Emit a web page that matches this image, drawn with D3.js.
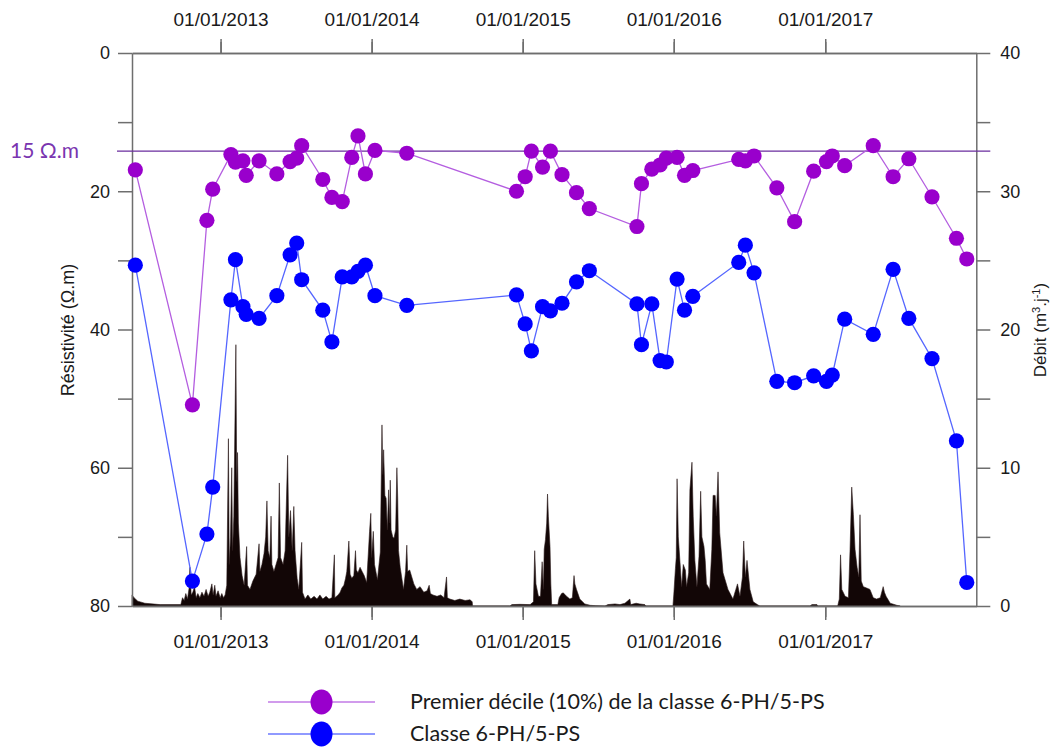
<!DOCTYPE html>
<html><head><meta charset="utf-8">
<script src="https://cdn.jsdelivr.net/npm/d3@7"></script>
<style>
body{margin:0;background:#fff;}
svg{display:block;}
.ax text{font-family:"Liberation Sans",Arial,sans-serif;fill:#1a1a1a;}
.ax path,.ax line{stroke:#6e6e6e;stroke-width:1.5;}
</style></head>
<body>
<svg id="chart" width="1053" height="747"></svg>
<script>
// ---- Data ----
const sampleDates = ["2012-06-09","2012-10-25","2012-11-29","2012-12-13","2013-01-26","2013-02-06","2013-02-24","2013-03-04","2013-04-04","2013-05-17","2013-06-18","2013-07-04","2013-07-16","2013-09-05","2013-09-27","2013-10-22","2013-11-14","2013-11-29","2013-12-17","2014-01-09","2014-03-27","2014-12-17","2015-01-07","2015-01-22","2015-02-18","2015-03-09","2015-04-06","2015-05-11","2015-06-11","2015-10-04","2015-10-15","2015-11-09","2015-11-29","2015-12-14","2016-01-09","2016-01-27","2016-02-16","2016-06-06","2016-06-22","2016-07-13","2016-09-06","2016-10-19","2016-12-04","2017-01-04","2017-01-18","2017-02-17","2017-04-27","2017-06-14","2017-07-22","2017-09-16","2017-11-14","2017-12-09"];
const premierDecile = [16.9,50.9,24.2,19.7,14.7,15.8,15.6,17.7,15.6,17.5,15.7,15.2,13.4,18.3,20.9,21.5,15.1,12.0,17.5,14.1,14.5,20.0,17.9,14.2,16.5,14.2,17.6,20.2,22.5,25.1,18.9,16.8,16.2,15.2,15.1,17.7,17.0,15.4,15.6,14.9,19.5,24.4,17.1,15.7,14.9,16.3,13.4,17.9,15.3,20.8,26.8,29.8];
const classe = [30.7,76.4,69.6,62.8,35.7,29.9,36.7,37.8,38.4,35.1,29.2,27.5,32.8,37.2,41.8,32.4,32.4,31.6,30.7,35.1,36.5,35.0,39.2,43.1,36.7,37.3,36.2,33.1,31.5,36.3,42.2,36.3,44.5,44.7,32.7,37.2,35.2,30.3,27.8,31.8,47.5,47.7,46.7,47.5,46.6,38.5,40.7,31.3,38.4,44.2,56.1,76.6];

// Discharge (débit), days counted from 01/06/2012
const debitStart = "2012-06-01";
const debitDays = [0,5,14,31,68,118,122,126,130,134,138,140,143,147,151,155,159,164,169,174,179,184,188,193,196,200,203,208,213,217,221,
225,229,233,235,238,241,243,246,251,253,255,257,261,266,271,277,279,285,292,300,307,309,314,319,323,326,329,333,336,338,343,348,353,356,359,365,370,376,379,383,387,391,394,399,403,410,412,418,425,432,440,447,454,461,469,476,483,489,490,498,503,507,512,516,519,524,527,531,536,540,542,546,551,556,561,567,570,574,577,579,583,586,593,600,604,606,608,611,614,617,620,622,624,626,630,633,637,640,642,644,648,656,661,664,666,671,676,681,688,696,705,713,718,721,727,737,746,754,760,762,768,780,792,805,817,822,823,
913,918,937,962,970,973,976,982,987,991,994,996,999,1002,1004,1006,1010,1012,1014,1029,1032,1038,1042,1050,1058,1064,1068,1070,1074,1082,1094,1107,1121,1143,1150,1167,1179,1191,1203,1205,1218,1227,1239,1242,
1307,1309,1313,1315,1317,1320,1322,1328,1332,1337,1340,1345,1348,1353,1356,1360,1365,1370,1374,1377,1382,1385,1388,1396,1401,1404,1409,1412,1416,1420,1428,1440,1452,1459,1463,1469,1475,1478,1482,1486,1493,1501,1511,1517,1638,1643,1655,1657,
1705,1709,1712,1715,1723,1731,1735,1739,1743,1747,1752,1756,1759,1762,1767,1775,1783,1791,1799,1808,1815,1818,1822,1832,1848,1856];
const debitValues = [0.8,0.6,0.35,0.2,0.1,0.1,0.6,0.4,0.9,0.5,1.3,2.8,0.8,1.0,1.4,0.6,0.9,0.6,1.0,0.7,1.2,0.7,1.0,1.6,0.8,1.5,0.7,1.1,0.6,0.9,0.6,
0.8,1.5,12.1,3.0,5.0,10.0,4.0,6.5,18.9,9.0,11.1,6.0,3.5,2.2,1.5,4.3,1.5,1.2,1.8,2.3,4.5,2.5,3.0,3.8,5.0,7.6,4.0,3.5,6.5,3.0,2.5,3.0,3.5,8.9,3.5,3.0,4.0,10.9,5.0,6.9,4.0,7.2,4.0,2.0,1.2,4.6,1.0,0.5,0.8,0.5,0.7,0.5,0.8,0.5,0.7,0.5,0.6,3.7,0.6,0.8,1.0,1.3,1.5,2.0,2.5,4.7,2.3,2.0,2.2,4.0,2.6,2.4,2.8,2.5,2.2,1.7,3.3,5.4,6.7,3.5,5.4,3.0,1.9,3.9,13.1,9.5,11.3,8.0,7.8,5.5,8.4,6.0,9.1,5.5,5.0,4.9,5.5,10.0,7.8,4.0,2.8,1.2,2.5,4.4,2.5,2.6,2.1,1.6,1.2,1.4,1.0,1.1,1.5,0.9,0.8,0.7,0.8,0.6,2.1,0.6,0.5,0.4,0.5,0.4,0.45,0.3,0,
0,0.1,0.12,0.1,0.3,4.0,1.6,0.7,0.7,3.2,1.2,4.1,4.8,6.0,8.1,6.5,4.3,1.6,0.1,0.1,0.6,0.9,0.95,0.7,0.5,0.6,2.2,1.6,1.2,0.5,0.15,0.05,0.02,0,0.1,0.15,0.1,0.2,0.5,0.1,0.2,0.15,0.1,0,
0,0.8,2.7,3.5,9.2,5.0,4.1,1.4,3.0,2.6,1.4,2.4,8.4,10.4,6.5,3.3,1.4,3.6,8.3,5.0,4.3,3.3,1.6,1.2,4.1,8.0,8.0,6.5,9.7,5.3,2.4,1.2,0.5,1.2,1.6,0.7,2.1,4.7,2.1,3.3,1.2,0.3,0.1,0,0,0.1,0.1,0,
0,0.5,3.7,1.2,0.7,0.6,4.1,8.6,6.6,4.1,2.8,2.1,6.6,1.8,1.4,1.3,1.2,0.6,0.5,0.6,1.4,1.0,0.7,0.2,0.05,0];

const resTicks = [0,10,20,30,40,50,60,70,80];
const debTicks = [0,5,10,15,20,25,30,35,40];
const seuil = 14.2;          // reference line labelled "15 Ω.m" (drawn position)
const seuilLabel = "15 Ω.m";
const legendLabels = ["Premier décile (10%) de la classe 6-PH/5-PS","Classe 6-PH/5-PS"];

// ---- Chart ----
const parse = d3.timeParse("%Y-%m-%d");
const svg = d3.select("#chart");
const x = d3.scaleTime().domain([parse("2012-06-01"), parse("2018-01-01")]).range([132, 976.3]);
const yRes = d3.scaleLinear().domain([0,80]).range([53,606]);
const yDeb = d3.scaleLinear().domain([0,40]).range([606,53]);

const start = parse(debitStart);
const debit = debitDays.map((d,i)=>({date:d3.timeDay.offset(start,d), v:debitValues[i]}));

// discharge area
svg.append("path").datum(debit)
  .attr("fill","#120606").attr("stroke","#2a1a1a").attr("stroke-width",0.6)
  .attr("d", d3.area().x(d=>x(d.date)).y0(yDeb(0)).y1(d=>yDeb(d.v)));

// axes
const janTicks = d3.timeMonth.every(12).range(parse("2013-01-01"), parse("2018-01-01"));
const julTicks = d3.timeMonth.every(12).range(parse("2012-07-01"), parse("2018-01-01"));
const fmt = d3.timeFormat("%d/%m/%Y");

function styleAx(g, fs){ g.attr("class","ax"); g.selectAll("text").style("font-size",fs+"px"); }

svg.append("g").attr("transform","translate(0,53)")
  .call(d3.axisTop(x).tickValues(janTicks).tickFormat(fmt).tickSize(11).tickSizeOuter(0).tickPadding(16))
  .call(g=>styleAx(g,19));
svg.append("g").attr("transform","translate(0,53)")
  .call(d3.axisTop(x).tickValues(julTicks).tickFormat("").tickSize(14).tickSizeOuter(0))
  .call(g=>styleAx(g,19));
svg.append("g").attr("transform","translate(0,606)")
  .call(d3.axisBottom(x).tickValues(janTicks).tickFormat(fmt).tickSize(11).tickSizeOuter(0).tickPadding(18))
  .call(g=>styleAx(g,19));
svg.append("g").attr("transform","translate(0,606)")
  .call(d3.axisBottom(x).tickValues(julTicks).tickFormat("").tickSize(14).tickSizeOuter(0))
  .call(g=>styleAx(g,19));
svg.append("g").attr("transform","translate(132,0)")
  .call(d3.axisLeft(yRes).tickValues(resTicks).tickFormat(d=>d%20===0?d:"").tickSize(14).tickSizeOuter(0).tickPadding(8))
  .call(g=>styleAx(g,18));
svg.append("g").attr("transform","translate(976.3,0)")
  .call(d3.axisRight(yDeb).tickValues(debTicks).tickFormat(d=>d%10===0?d:"").tickSize(14).tickSizeOuter(0).tickPadding(10))
  .call(g=>styleAx(g,18));

// axis titles
svg.append("text").attr("transform","translate(74,330) rotate(-90)")
  .attr("text-anchor","middle").style("font-family","Liberation Sans, Arial, sans-serif")
  .style("font-size","18px").attr("fill","#1a1a1a").text("Résistivité (Ω.m)");
svg.append("text").attr("transform","translate(1046,330) rotate(-90)")
  .attr("text-anchor","middle").style("font-family","Liberation Sans, Arial, sans-serif")
  .style("font-size","17px").attr("fill","#1a1a1a")
  .call(t=>{t.append("tspan").text("Débit (m");t.append("tspan").attr("dy",-6).style("font-size","11px").text("3");
            t.append("tspan").attr("dy",6).text(".j");t.append("tspan").attr("dy",-6).style("font-size","11px").text("-1");
            t.append("tspan").attr("dy",6).text(")");});

// threshold line
svg.append("line").attr("x1",x.range()[0]-15).attr("x2",x.range()[1]+14)
  .attr("y1",yRes(seuil)).attr("y2",yRes(seuil)).attr("stroke","#6a2c9e").attr("stroke-width",1.2);
svg.append("text").attr("x",10).attr("y",yRes(seuil)+7).style("font-family","Lato, 'Open Sans', sans-serif")
  .style("font-size","21px").attr("fill","#7a35b0").text(seuilLabel);

// series
const series = [
  {vals:classe, line:"#5566ff", fill:"#0000ff"},
  {vals:premierDecile, line:"#b45ee0", fill:"#9900cc"}
];
series.forEach(s=>{
  const pts = sampleDates.map((d,i)=>({date:parse(d), v:s.vals[i]}));
  svg.append("path").datum(pts).attr("fill","none").attr("stroke",s.line).attr("stroke-width",1.3)
    .attr("d", d3.line().x(d=>x(d.date)).y(d=>yRes(d.v)));
  svg.append("g").selectAll("circle").data(pts).join("circle")
    .attr("cx",d=>x(d.date)).attr("cy",d=>yRes(d.v)).attr("r",7.6).attr("fill",s.fill);
});

// legend
const leg = [{c:"#9900cc",l:"#c27ae6"},{c:"#0000ff",l:"#6b78ff"}];
leg.forEach((d,i)=>{
  const yy = 702 + i*32;
  svg.append("line").attr("x1",268).attr("x2",375).attr("y1",yy).attr("y2",yy).attr("stroke",d.l).attr("stroke-width",1.5);
  svg.append("ellipse").attr("cx",321.5).attr("cy",yy).attr("rx",11).attr("ry",12.5).attr("fill",d.c);
  svg.append("text").attr("x",410).attr("y",yy+7).style("font-family","Lato, 'Open Sans', sans-serif")
    .style("font-size","21.5px").attr("fill","#1a1a1a").text(legendLabels[i]);
});
</script>
</body></html>
